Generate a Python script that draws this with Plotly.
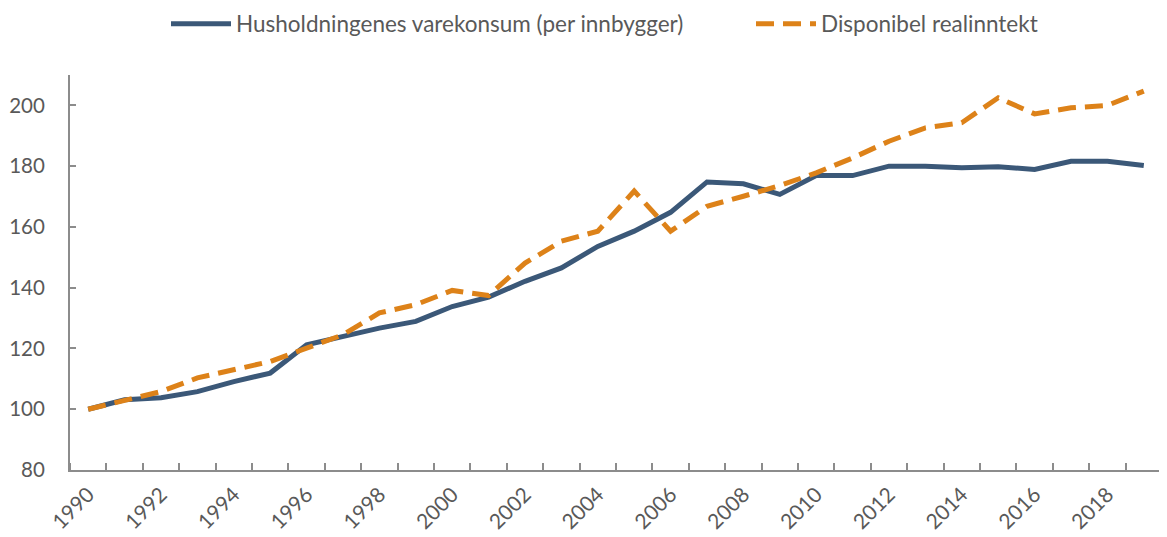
import plotly.graph_objects as go

years = list(range(1990, 2020))
varekonsum = [100.0, 103.1, 103.8, 105.8, 109.1, 111.9, 121.2, 124.0, 126.7, 128.9,
              133.8, 136.9, 142.1, 146.5, 153.6, 158.6, 164.8, 174.8, 174.2, 170.7,
              176.9, 176.9, 180.0, 180.0, 179.5, 179.8, 178.9, 181.6, 181.6, 180.2]
realinntekt = [100.0, 102.9, 105.8, 110.3, 113.0, 115.7, 120.1, 124.5, 131.7, 134.4,
               139.1, 137.4, 148.1, 155.3, 158.6, 171.8, 158.6, 166.8, 170.1, 173.6,
               177.8, 182.7, 188.2, 192.6, 194.3, 202.5, 197.2, 199.2, 200.0, 204.7]
label_years = list(range(1990, 2019, 2))
y_ticks = [80, 100, 120, 140, 160, 180, 200]

FONT = "Lato"
GREY = "#595959"
AXIS = "#8c8c8c"
W, H = 1159, 529  # page body adds an 8px margin

fig = go.Figure()
fig.add_trace(go.Scatter(
    x=years, y=varekonsum, mode="lines",
    name="Husholdningenes varekonsum (per innbygger)",
    line=dict(color="#3b5878", width=5), legend="legend",
))
fig.add_trace(go.Scatter(
    x=years, y=realinntekt, mode="lines",
    name="Disponibel realinntekt",
    line=dict(color="#dd8219", width=5, dash="18px,9px"), legend="legend2",
))

leg_common = dict(orientation="h", yref="container", xref="container",
                  y=1 - 16 / H, yanchor="middle", xanchor="left",
                  font=dict(family=FONT, size=22.5, color=GREY),
                  itemwidth=60, bgcolor="rgba(0,0,0,0)")

fig.update_layout(
    width=W, height=H,
    margin=dict(l=62, r=5, t=67, b=67),
    paper_bgcolor="white", plot_bgcolor="white",
    font=dict(family=FONT, size=21, color=GREY),
    showlegend=True,
    legend=dict(x=158 / W, **leg_common),
    legend2=dict(x=743 / W, **leg_common),
    xaxis=dict(
        range=[1989.5, 2019.5], automargin=False,
        tickmode="array", tickvals=label_years, ticktext=[str(y) for y in label_years],
        tickangle=-45, ticks="", ticklabelstandoff=2,
        showline=True, linecolor=AXIS, linewidth=2,
        showgrid=False, zeroline=False,
        minor=dict(tickmode="array", tickvals=[y + 0.5 for y in range(1989, 2020)],
                   ticks="inside", ticklen=7, tickcolor=AXIS, tickwidth=1.5, showgrid=False),
        tickfont=dict(family=FONT, size=21, color=GREY),
    ),
    yaxis=dict(
        range=[80, 210], automargin=False,
        tickmode="array", tickvals=y_ticks,
        ticks="inside", ticklen=6, tickcolor=AXIS, tickwidth=1.5,
        ticklabelstandoff=19,
        showline=True, linecolor=AXIS, linewidth=2,
        showgrid=False, zeroline=False,
        tickfont=dict(family=FONT, size=20.5, color=GREY),
    ),
)

fig.write_html("out.html")
